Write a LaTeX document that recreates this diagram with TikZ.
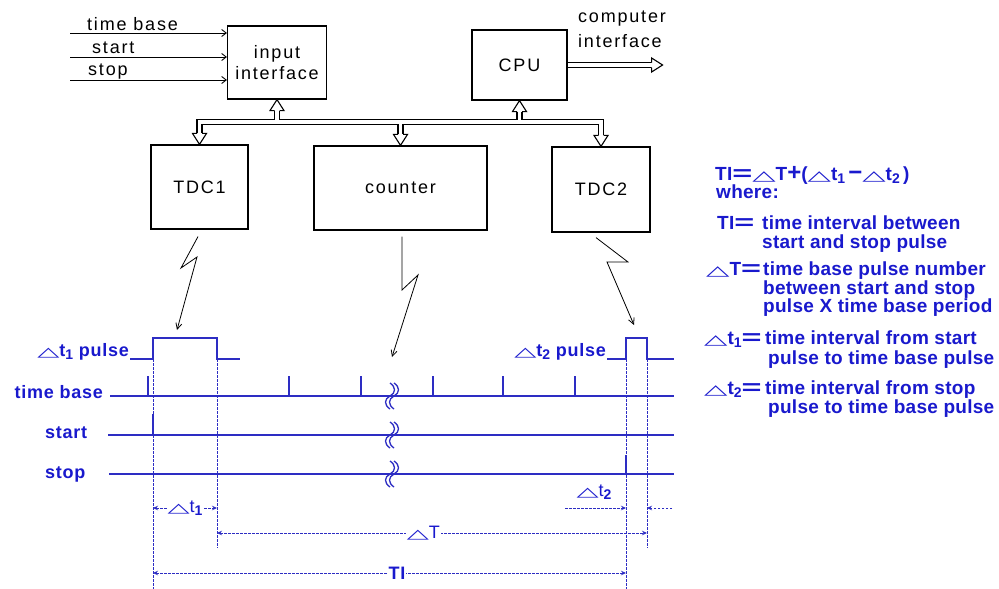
\documentclass[tikz,border=0pt]{standalone}
\usepackage{fontspec}
\usepackage{graphicx}
\setmainfont{Liberation Sans}
\newfontfamily\topfont[LetterSpace=10]{Liberation Sans}
\newfontfamily\bfont[LetterSpace=4]{Liberation Sans}
\newfontfamily\rfont[LetterSpace=1.5]{Liberation Sans}
\newfontfamily\symfont{DejaVu Sans}
\usetikzlibrary{arrows.meta,calc}
\definecolor{tblue}{RGB}{25,25,205}
\definecolor{lblue}{RGB}{45,45,195}
\newcommand\tri{{\symfont\mdseries\scalebox{1.6}[0.72]{△}}}
\newcommand\lsub[1]{\raisebox{-0.35ex}{\fontsize{14}{14}\selectfont\bfseries #1}}
\newcommand\beq{\scalebox{1.8}[1.1]{=}}
\newcommand\bigplus{{\fontsize{24}{24}\selectfont +}}
\newcommand\bigminus{{\fontsize{24}{24}\selectfont −}}
\begin{document}
\begin{tikzpicture}[x=1pt,y=-1pt,
  box/.style={draw=black,line width=1.2pt,inner sep=0pt,align=center,font=\topfont\fontsize{18}{21}\selectfont},
  toplabel/.style={inner sep=0pt,font=\topfont\fontsize{18}{21}\selectfont},
  inarrow/.style={line width=0.9pt,-{Straight Barb[length=4.5pt,width=7pt]}},
  bolt/.style={line width=0.8pt,line join=miter,-{Straight Barb[length=6pt,width=6pt]}},
  sig/.style={lblue,line width=1.5pt},
  thicksig/.style={lblue,line width=2.6pt},
  vdash/.style={lblue,line width=0.9pt,dash pattern=on 2.5pt off 1.5pt},
  dim/.style={lblue,line width=0.9pt,dash pattern=on 2.5pt off 1.5pt,{Stealth[length=5pt,width=4.5pt]}-{Stealth[length=5pt,width=4.5pt]}},
  dimone/.style={lblue,line width=0.9pt,dash pattern=on 2.5pt off 1.5pt,-{Stealth[length=5pt,width=4.5pt]}},
  blab/.style={inner sep=0pt,text=tblue,font=\bfont\bfseries\fontsize{18}{18}\selectfont},
  dlab/.style={inner sep=1pt,fill=white,text=tblue,font=\bfont\fontsize{18}{18}\selectfont},
  rtext/.style={anchor=base west,inner sep=0pt,text=tblue,font=\rfont\bfseries\fontsize{19}{17}\selectfont},
  bushead/.pic={
    \fill[white] (-7,-11) -- (0,0) -- (7,-11) -- cycle;
    \draw[black,line width=1.1pt,line join=miter] (-2.5,-11) -- (-7,-11) -- (0,0) -- (7,-11) -- (2.5,-11);
  },
  brk/.pic={
    \draw[lblue,line width=1.3pt] (0,-13) .. controls (6,-9) and (6,-3) .. (0,0) .. controls (-6,3) and (-6,9) .. (0,13);
    \draw[lblue,line width=1.3pt] (4,-13) .. controls (10,-9) and (10,-3) .. (4,0) .. controls (-2,3) and (-2,9) .. (4,13);
  }
]
\useasboundingbox (0,0) rectangle (999,589);
\fill[white] (0,0) rectangle (999,589);

% ---------- block diagram ----------
\node[box,minimum width=99pt,minimum height=73pt] (inp) at (277,62.5) {input\\interface};
\node[box,minimum width=95pt,minimum height=70pt] (cpu) at (519.5,65) {CPU};
\node[box,minimum width=97pt,minimum height=84pt] (tdc1) at (199.5,187) {TDC1};
\node[box,minimum width=173pt,minimum height=84pt] (counter) at (400.5,188) {counter};
\node[box,minimum width=98pt,minimum height=85pt] (tdc2) at (601,189.5) {TDC2};

% input signals
\coordinate (tbin) at (70,33);
\coordinate (stin) at (70,57);
\coordinate (spin) at (70,80);
\draw[inarrow] (tbin) -- (tbin -| inp.west);
\draw[inarrow] (stin) -- (stin -| inp.west);
\draw[inarrow] (spin) -- (spin -| inp.west);
\node[toplabel,anchor=base west] (ltb) at (87,30) {time base};
\node[toplabel,anchor=base west] (lst) at (92,53) {start};
\node[toplabel,anchor=base west] (lsp) at (88,75) {stop};
\node[toplabel,anchor=base west] (lci) at (578,22) {computer};
\node[toplabel,anchor=base west] (lci2) at (578,47) {interface};

% bus
\coordinate (busY) at (0,122);
\coordinate (ci) at ($(cpu.east)+(95,0)$);
\draw[black,line width=6.2pt,line join=miter]
  ($(tdc1.north)+(0,-11)$) -- (tdc1.north |- busY) -- (tdc2.north |- busY) -- ($(tdc2.north)+(0,-11)$)
  (counter.north |- busY) -- ($(counter.north)+(0,-11)$)
  (inp.south |- busY) -- ($(inp.south)+(0,11)$)
  (cpu.south |- busY) -- ($(cpu.south)+(0,11)$)
  ($(cpu.east)+(0.6,0)$) -- ($(ci)+(-11,0)$);
\draw[white,line width=3.8pt,line join=miter]
  ($(tdc1.north)+(0,-11)$) -- (tdc1.north |- busY) -- (tdc2.north |- busY) -- ($(tdc2.north)+(0,-11)$)
  (counter.north |- busY) -- ($(counter.north)+(0,-11)$)
  (inp.south |- busY) -- ($(inp.south)+(0,11)$)
  (cpu.south |- busY) -- ($(cpu.south)+(0,11)$)
  ($(cpu.east)+(0.6,0)$) -- ($(ci)+(-11,0)$);
\pic at (tdc1.north) {bushead};
\pic at (counter.north) {bushead};
\pic at (tdc2.north) {bushead};
\pic[rotate=180] at (inp.south) {bushead};
\pic[rotate=180] at (cpu.south) {bushead};
\pic[rotate=90] at (ci) {bushead};

% lightning connectors
\coordinate (p1) at (177,330);
\coordinate (p2) at (392,357);
\coordinate (p3) at (634,325);
\draw[bolt] ($(tdc1.south)+(-1.5,7)$) -- (181,268) -- (197,257) -- (p1);
\draw[bolt] ($(counter.south)+(1.5,6)$) -- (402,290) -- (418,275) -- (p2);
\draw[bolt] ($(tdc2.south)+(-5,5)$) -- (628,262) -- (607,262) -- (p3);

% ---------- timing diagram ----------
\draw[sig] (130,359) -- (153,359) -- (153,338) -- (217,338) -- (217,359) -- (240,359);
\draw[sig] (607,359) -- (626,359) -- (626,338) -- (647,338) -- (647,359) -- (674,359);
\draw[sig] (110,396) -- (674,396);
\foreach \x in {148,289,361,433,503,575} \draw[sig] (\x,376) -- (\x,396);
\draw[thicksig] (108,435) -- (674,435);
\draw[thicksig] (153,414) -- (153,435);
\draw[sig] (109,474) -- (674,474);
\draw[thicksig] (626,455) -- (626,474);
\pic at (390,396) {brk};
\pic at (390,435) {brk};
\pic at (390,474) {brk};

\draw[vdash] (153,359) -- (153,589);
\draw[vdash] (217,359) -- (217,548);
\draw[vdash] (626,359) -- (626,589);
\draw[vdash] (647,359) -- (647,548);

\node[blab,anchor=base east] (lp1) at (129,356) {\tri t\lsub1 pulse};
\node[blab,anchor=base east] (ltb2) at (103,398) {time base};
\node[blab,anchor=base west] (lst2) at (45,438) {start};
\node[blab,anchor=base west] (lsp2) at (45,478) {stop};
\node[blab,anchor=base east] (lp2) at (606,356) {\tri t\lsub2 pulse};

\draw[dim] (153,508) -- (217,508) node[dlab,midway] (dt1) {\tri t\lsub1};
\draw[dim] (217,533) -- (647,533) node[dlab,pos=0.48] (dT) {\tri T};
\draw[dim] (153,573) -- (626,573) node[dlab,pos=0.516,font=\bfont\bfseries\fontsize{18}{18}\selectfont] (dTI) {TI};
\draw[dimone] (565,508) -- (626,508);
\draw[dimone] (672,508) -- (647,508);
\node[dlab] (dt2) at (594,492) {\tri t\lsub2};

% ---------- legend ----------
\node[rtext] (eq) at (715,180) {TI\beq\tri T\bigplus(\tri t\lsub1\,\bigminus\tri t\lsub2\,)};
\node[rtext] (wh) at (716,198) {where:};
\node[rtext] (k1) at (717,229) {TI\beq};
\node[rtext] (v1a) at (762,229) {time interval between};
\node[rtext] (v1b) at (762,248) {start and stop pulse};
\node[rtext] (k2) at (706,275) {\tri T\beq};
\node[rtext] (v2a) at (763,275) {time base pulse number};
\node[rtext] (v2b) at (763,294) {between start and stop};
\node[rtext] (v2c) at (763,312) {pulse X time base period};
\node[rtext] (k3) at (704,344) {\tri t\lsub1\beq};
\node[rtext] (v3a) at (765,344) {time interval from start};
\node[rtext] (v3b) at (768,364) {pulse to time base pulse};
\node[rtext] (k4) at (704,394) {\tri t\lsub2\beq};
\node[rtext] (v4a) at (765,394) {time interval from stop};
\node[rtext] (v4b) at (768,413) {pulse to time base pulse};
\end{tikzpicture}
\end{document}
